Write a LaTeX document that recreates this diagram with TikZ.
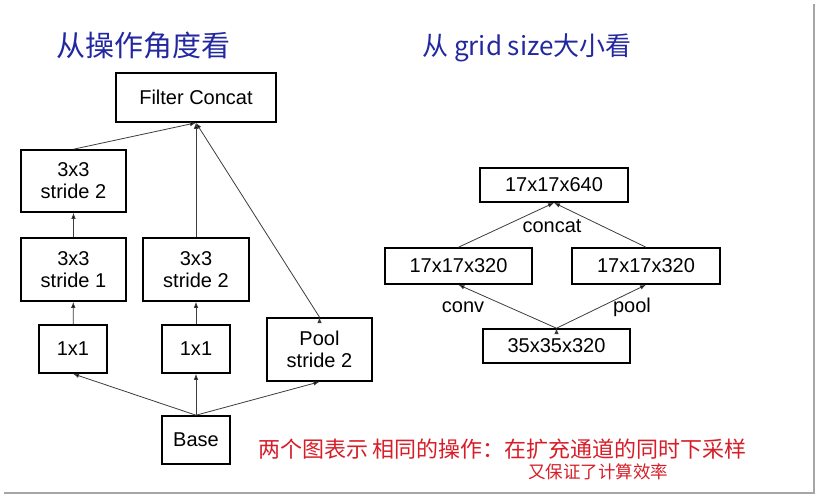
\documentclass[tikz,border=0pt]{standalone}
\usepackage{fontspec}
\setmainfont{Liberation Sans}
\newfontfamily\cjk{Noto Sans CJK SC}
\usetikzlibrary{arrows.meta}
\definecolor{penblue}{RGB}{35,40,160}
\definecolor{penred}{RGB}{215,30,40}
\definecolor{edgegray}{RGB}{60,60,60}

\begin{document}
\begin{tikzpicture}[x=1pt,y=-1pt]
\tikzstyle{every node}=[font=\fontsize{20}{22}\selectfont]
\tikzstyle{op}=[draw,line width=1.6pt,inner sep=0pt,align=center]
\tikzstyle{flow}=[draw=edgegray,line width=0.8pt,-{Latex[length=6pt,width=4.5pt]}]
\useasboundingbox (0,0) rectangle (818,496);
% page shadow
\draw[gray!70,line width=2pt] (814,4) -- (814,493) -- (4,493);

% left: by operation
\node[op,minimum width=160pt,minimum height=49pt] (cat) at (196,97.5) {Filter Concat};
\node[op,minimum width=105pt,minimum height=62pt] (a3) at (73.5,181) {3x3\\stride 2};
\node[op,minimum width=105pt,minimum height=63pt] (a2) at (73.5,269.5) {3x3\\stride 1};
\node[op,minimum width=68pt,minimum height=48pt] (a1) at (73,349) {1x1};
\node[op,minimum width=106pt,minimum height=63pt] (b2) at (196,269.5) {3x3\\stride 2};
\node[op,minimum width=68pt,minimum height=48pt] (b1) at (196,349) {1x1};
\node[op,minimum width=105pt,minimum height=63pt] (pool) at (319.5,349.5) {Pool\\stride 2};
\node[op,minimum width=68pt,minimum height=48pt] (base) at (196,440) {Base};
\path[flow] (base.north) edge (a1.south)
            (base.north) edge (b1.south)
            (base.north) edge (pool.south)
            (a1) edge (a2)
            (a2) edge (a3)
            (b1) edge (b2)
            (a3.north) edge (cat.south)
            (b2) edge (cat)
            (pool.north) edge (cat.south);

% right: by grid size
\node[op,minimum width=148pt,minimum height=34pt] (g640) at (554,185) {17x17x640};
\node[op,minimum width=147pt,minimum height=36pt] (gl) at (458.5,266) {17x17x320};
\node[op,minimum width=148pt,minimum height=36pt] (gr) at (646,266) {17x17x320};
\node[op,minimum width=147pt,minimum height=34pt] (g35) at (556.5,346) {35x35x320};
\path[flow] (gl.north) edge (g640.south)
            (gr.north) edge (g640.south)
            (g35.north) edge (gl.south)
            (g35.north) edge (gr.south);
\node (concat) at (552,226) {concat};
\node (conv) at (463,307) {conv};
\node (poollbl) at (632,307) {pool};

% handwritten notes
\node[text=penblue,font=\cjk\fontsize{29}{30}\selectfont] (t1) at (143,46) {从操作角度看};
\node[text=penblue,font=\cjk\fontsize{26}{30}\selectfont] (t2) at (527,48) {从 grid size大小看};
\node[text=penred,font=\cjk\fontsize{22}{24}\selectfont] (n1) at (502.5,449) {两个图表示 相同的操作：在扩充通道的同时下采样};
\node[text=penred,font=\cjk\fontsize{17.5}{20}\selectfont] (n2) at (598,472) {又保证了计算效率};
\end{tikzpicture}
\end{document}
